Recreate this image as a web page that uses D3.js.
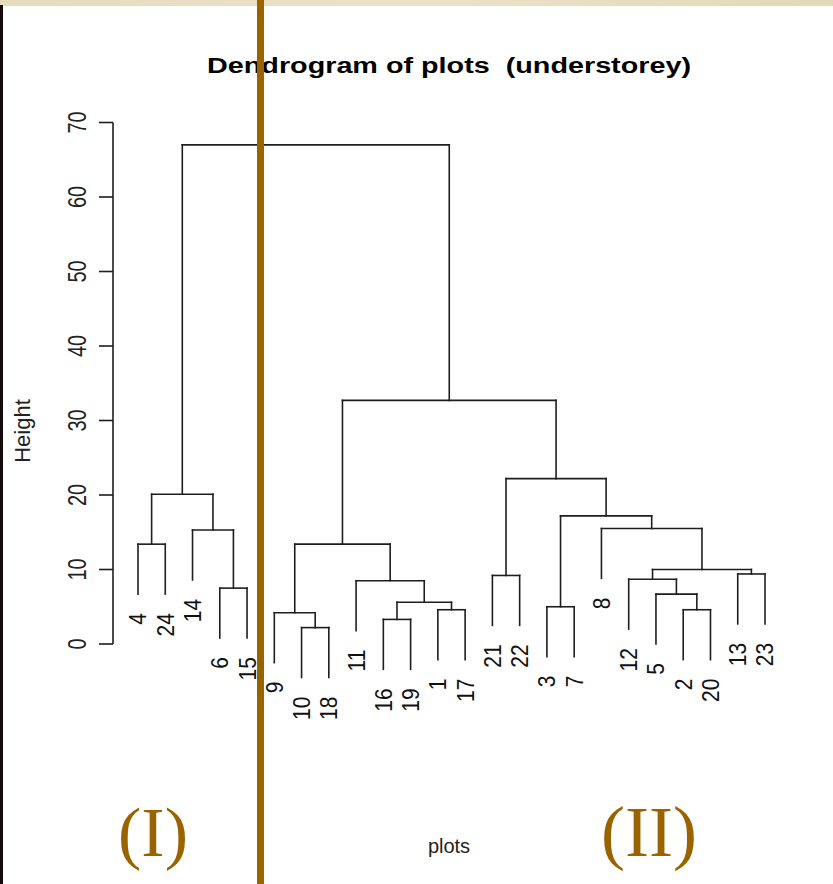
<!DOCTYPE html>
<html>
<head>
<meta charset="utf-8">
<script src="https://cdn.jsdelivr.net/npm/d3@7"></script>
<style>
  html, body { margin: 0; padding: 0; background: #ffffff; }
  svg { display: block; }
  .pre { white-space: pre; }
</style>
</head>
<body>
<svg id="chart" width="833" height="884"></svg>
<script>
// Leaf labels in the order they appear along the bottom
const leafOrder = ["4","24","14","6","15","9","10","18","11","16","19","1","17",
                   "21","22","3","7","8","12","5","2","20","13","23"];

// hclust-style merge steps: negative = plot number, positive = earlier step
const mergeLeft   = [-10, -16, -9, -1, -2, -3,  2, -5, -6, -11, -12, -21, -13, 11, -4,  3, -14, -8,  6, 15, 12, 16, 20];
const mergeRight  = [-18, -19,  1, -17, -20, -7, 4,  5, -15,  7,   8, -22, -23, 13, -24, 10,  9, 14, 18, 17, 19, 21, 22];
const mergeHeight = [2.2, 3.3, 4.2, 4.6, 4.6, 5.0, 5.6, 6.7, 7.5, 8.5, 8.7, 9.2, 9.4, 10.0, 13.4, 13.4, 15.3, 15.5, 17.2, 20.1, 22.2, 32.7, 67.0];

const yTicks = [0, 10, 20, 30, 40, 50, 60, 70];

const titleText = "Dendrogram of plots  (understorey)";
const xLabel = "plots";
const yLabel = "Height";
const groupLabels = ["(I)", "(II)"];

const svg = d3.select("#chart");
const W = 833, H = 884;

// page decoration: textured top band and dark left edge
svg.append("rect").attr("x", 0).attr("y", 0).attr("width", W).attr("height", H).attr("fill", "#ffffff");
const grad = svg.append("defs").append("linearGradient").attr("id", "band");
grad.append("stop").attr("offset", "0%").attr("stop-color", "#e4dcbc");
grad.append("stop").attr("offset", "50%").attr("stop-color", "#ebe3c6");
grad.append("stop").attr("offset", "100%").attr("stop-color", "#e2d9b8");
svg.append("rect").attr("x", 0).attr("y", 0).attr("width", W).attr("height", 6).attr("fill", "url(#band)");
svg.append("rect").attr("x", 0).attr("y", 5).attr("width", 3).attr("height", H - 5).attr("fill", "#140c0c");

// build the tree from the merge steps
function buildNode(ref) {
  if (ref < 0) return { label: String(-ref), height: null };
  const i = ref - 1;
  return { height: mergeHeight[i], children: [buildNode(mergeLeft[i]), buildNode(mergeRight[i])] };
}
const root = d3.hierarchy(buildNode(mergeHeight.length));
const maxH = d3.max(mergeHeight);
const hang = 0.1 * maxH;

const x = d3.scalePoint().domain(leafOrder).range([138, 765]);
const y = d3.scaleLinear().domain([0, 70]).range([644, 122.5]);

// internal nodes sit midway between their children; leaves hang below the parent
root.eachAfter(n => {
  if (n.children) {
    n.px = d3.mean(n.children, c => c.px);
    n.py = n.data.height;
  } else {
    n.px = x(n.data.label);
    n.py = n.parent.data.height - hang;
  }
});

// dendrogram segments
const ink = "#1e1e1e";
const segs = [];
root.each(n => {
  if (!n.children) return;
  const [a, b] = n.children;
  segs.push([a.px, y(a.py), a.px, y(n.py)]);
  segs.push([a.px, y(n.py), b.px, y(n.py)]);
  segs.push([b.px, y(n.py), b.px, y(b.py)]);
});
svg.append("g").selectAll("line").data(segs).join("line")
  .attr("x1", d => d[0]).attr("y1", d => d[1])
  .attr("x2", d => d[2]).attr("y2", d => d[3])
  .attr("stroke", ink).attr("stroke-width", 1.6).attr("stroke-linecap", "square");

// leaf labels, reading upward below each leaf
svg.append("g").selectAll("text").data(root.leaves()).join("text")
  .attr("transform", d => `translate(${d.px},${y(d.py) + 19}) scale(1.12,1) rotate(-90)`)
  .attr("text-anchor", "end")
  .attr("dy", "0.36em")
  .attr("font-family", "Liberation Sans, Arial, sans-serif")
  .attr("font-size", 21)
  .attr("fill", "#111")
  .text(d => d.data.label);

// y axis
const axis = svg.append("g");
axis.append("line").attr("x1", 113).attr("x2", 113)
  .attr("y1", y(0)).attr("y2", y(70)).attr("stroke", ink).attr("stroke-width", 1.6);
axis.selectAll("line.tick").data(yTicks).join("line").attr("class", "tick")
  .attr("x1", 99).attr("x2", 113)
  .attr("y1", d => y(d)).attr("y2", d => y(d))
  .attr("stroke", ink).attr("stroke-width", 1.6);
axis.selectAll("text").data(yTicks).join("text")
  .attr("transform", d => `translate(86,${y(d)}) scale(1.25,1) rotate(-90)`)
  .attr("text-anchor", "middle")
  .attr("font-family", "Liberation Sans, Arial, sans-serif")
  .attr("font-size", 20)
  .attr("fill", "#222")
  .text(d => d);

// titles
svg.append("text")
  .attr("class", "pre")
  .attr("x", 207).attr("y", 73)
  .attr("textLength", 484).attr("lengthAdjust", "spacingAndGlyphs")
  .attr("font-family", "Liberation Sans, Arial, sans-serif")
  .attr("font-weight", "bold").attr("font-size", 22)
  .attr("fill", "#000")
  .text(titleText);
svg.append("text")
  .attr("transform", "translate(30,431) rotate(-90)")
  .attr("text-anchor", "middle")
  .attr("font-family", "Liberation Sans, Arial, sans-serif")
  .attr("font-size", 22).attr("fill", "#222")
  .text(yLabel);
svg.append("text")
  .attr("x", 449).attr("y", 853)
  .attr("text-anchor", "middle")
  .attr("font-family", "Liberation Sans, Arial, sans-serif")
  .attr("font-size", 20).attr("fill", "#222")
  .text(xLabel);

// group divider and group labels
const brown = "#9b6300";
svg.append("rect").attr("x", 257).attr("y", 0).attr("width", 7).attr("height", H).attr("fill", brown);
svg.append("text")
  .attr("x", 153).attr("y", 856).attr("text-anchor", "middle")
  .attr("font-family", "Liberation Serif, Times New Roman, serif")
  .attr("font-size", 70).attr("fill", brown)
  .text(groupLabels[0]);
svg.append("text")
  .attr("x", 649).attr("y", 856).attr("text-anchor", "middle")
  .attr("font-family", "Liberation Serif, Times New Roman, serif")
  .attr("font-size", 72).attr("fill", brown)
  .text(groupLabels[1]);
</script>
</body>
</html>
